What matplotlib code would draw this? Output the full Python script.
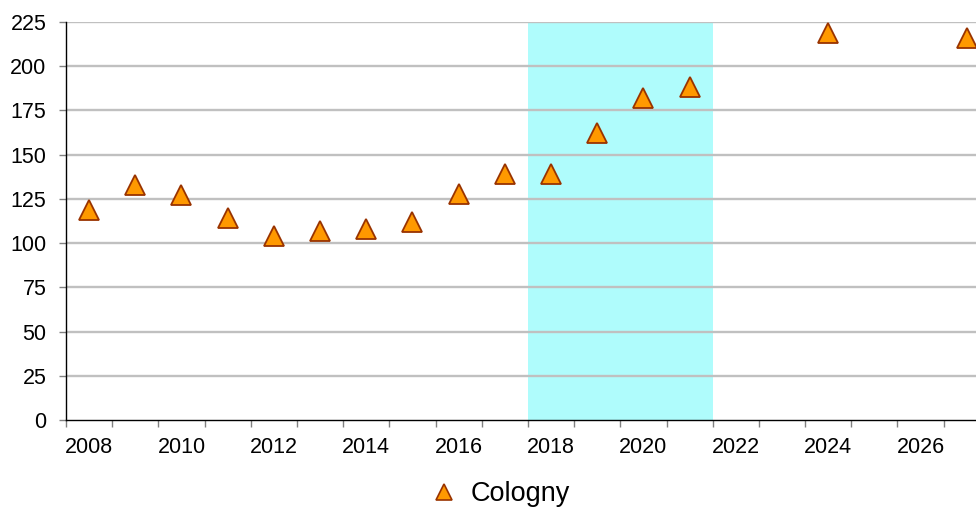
import numpy as np
from matplotlib import pyplot as plt
from matplotlib.lines import Line2D

# yearly values for Cologny (gaps in 2022, 2023, 2025, 2026)
years = [2008, 2009, 2010, 2011, 2012, 2013, 2014, 2015,
         2016, 2017, 2018, 2019, 2020, 2021, 2024, 2027]
values = [119, 133, 127, 114, 104, 107, 108, 112,
          128, 139, 139, 162, 182, 188, 219, 216]
series_name = "Cologny"

# highlighted period
band_start, band_end = 2018, 2021

y_ticks = list(range(0, 226, 25))
x_labels = list(range(2008, 2027, 2))

plt.rcParams['font.family'] = ['Liberation Sans', 'DejaVu Sans']

fig = plt.figure(figsize=(9.76, 5.08), dpi=100)
ax = fig.add_axes([66 / 976, 88 / 508, 1 - 66 / 976, 398 / 508])

ax.set_xlim(2007.5, 2027.2)
ax.set_ylim(0, 225)

ax.axvspan(band_start - 0.5, band_end + 0.5, color='#affcfc', lw=0, zorder=0)
for v in y_ticks[1:]:
    ax.axhline(v, color='#c0c0c0', lw=1.7, zorder=1)

ax.plot(years, values, linestyle='none', marker='^', markersize=14.5,
        markerfacecolor='#ff9900', markeredgecolor='#993300',
        markeredgewidth=1.3, zorder=3, clip_on=False)

# ticks at year boundaries, labels at the middle of every other year
ax.set_xticks(np.arange(2007.5, 2027.5, 1.0))
ax.set_xticklabels([])
ax.set_xticks(x_labels, minor=True)
ax.set_xticklabels([str(y) for y in x_labels], minor=True)
ax.tick_params(axis='x', which='major', length=5, color='#808080', width=1)
ax.tick_params(axis='x', which='minor', length=0, pad=12, labelsize=15.5)

ax.set_yticks(y_ticks)
ax.tick_params(axis='y', length=5, color='#808080', width=1, pad=9,
               labelsize=15.5)

for side in ('top', 'right'):
    ax.spines[side].set_visible(False)
for side in ('left', 'bottom'):
    ax.spines[side].set_color('black')
    ax.spines[side].set_linewidth(1.0)
    ax.spines[side].set_zorder(4)

handle = Line2D([], [], linestyle='none', marker='^', markersize=12,
                markerfacecolor='#ff9900', markeredgecolor='#993300',
                markeredgewidth=1.2)
fig.legend([handle], [series_name], loc='center', ncol=1,
           bbox_to_anchor=(500 / 976, 1 - 494 / 508), frameon=False,
           fontsize=19.5, handlelength=1.0, handletextpad=0.5)

fig.savefig('out.png', dpi=100)
